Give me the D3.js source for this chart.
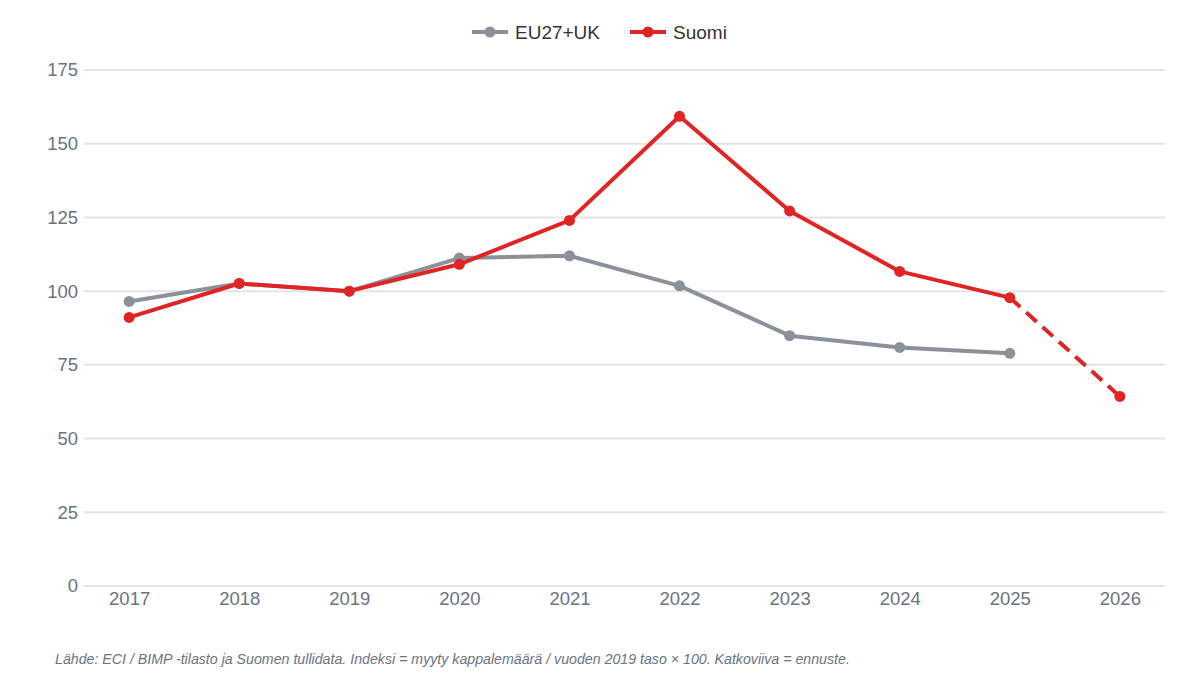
<!DOCTYPE html>
<html>
<head>
<meta charset="utf-8">
<script src="https://cdn.jsdelivr.net/npm/d3@7"></script>
<style>
  body { margin: 0; background: #fff; }
  svg { font-family: "Liberation Sans", Arial, sans-serif; }
  .tick text { fill: #6b7280; font-size: 18.5px; }
</style>
</head>
<body>
<svg id="chart" width="1200" height="682"></svg>
<script>
// data
const years = ["2017", "2018", "2019", "2020", "2021", "2022", "2023", "2024", "2025", "2026"];
const euValues = [96.5, 102.6, 100, 111.2, 112, 101.8, 84.9, 80.9, 78.9, null];
const suomiValues = [91.1, 102.6, 100, 109.1, 124, 159.3, 127.2, 106.7, 97.8, 64.3];
const forecastFrom = "2025";
const yTicks = [0, 25, 50, 75, 100, 125, 150, 175];
const source = "Lähde: ECI / BIMP -tilasto ja Suomen tullidata. Indeksi = myyty kappalemäärä / vuoden 2019 taso × 100. Katkoviiva = ennuste.";

const grey = "#8a9199";
const red = "#e02424";

let svg = d3.select("#chart");
let plotLeft = 84, plotRight = 1165, plotTop = 70, plotBottom = 586;

let x = d3.scalePoint().domain(years).range([plotLeft, plotRight]).padding(0.41);
let y = d3.scaleLinear().domain([0, 175]).range([plotBottom, plotTop]);

// grid lines
svg.append("g")
  .selectAll("line")
  .data(yTicks)
  .join("line")
  .attr("x1", plotLeft)
  .attr("x2", plotRight)
  .attr("y1", d => y(d))
  .attr("y2", d => y(d))
  .attr("stroke", "#e3e4e8")
  .attr("stroke-width", 2);

// axes
let yAxis = svg.append("g")
  .attr("transform", `translate(${plotLeft},0)`)
  .call(d3.axisLeft(y).tickValues(yTicks).tickSize(0).tickPadding(6));
yAxis.select(".domain").remove();

let xAxis = svg.append("g")
  .attr("transform", `translate(0,${plotBottom})`)
  .call(d3.axisBottom(x).tickSize(0).tickPadding(6));
xAxis.select(".domain").remove();

function series(values) {
  return years.map((yr, i) => ({ year: yr, v: values[i] })).filter(d => d.v != null);
}

let line = d3.line().x(d => x(d.year)).y(d => y(d.v));

let eu = series(euValues);
let fi = series(suomiValues);
let cut = years.indexOf(forecastFrom);
let fiActual = fi.filter(d => years.indexOf(d.year) <= cut);
let fiForecast = fi.filter(d => years.indexOf(d.year) >= cut);

function drawLine(data, color, dashed) {
  svg.append("path")
    .datum(data)
    .attr("d", line)
    .attr("fill", "none")
    .attr("stroke", color)
    .attr("stroke-width", 4)
    .attr("stroke-linejoin", "round")
    .attr("stroke-dasharray", dashed ? "14 8" : null);
}

function drawPoints(data, color) {
  svg.append("g")
    .selectAll("circle")
    .data(data)
    .join("circle")
    .attr("cx", d => x(d.year))
    .attr("cy", d => y(d.v))
    .attr("r", 5.5)
    .attr("fill", color);
}

drawLine(eu, grey, false);
drawLine(fiActual, red, false);
drawLine(fiForecast, red, true);
drawPoints(eu, grey);
drawPoints(fi, red);

// legend
let legend = [
  { label: "EU27+UK", color: grey, x: 472 },
  { label: "Suomi", color: red, x: 630 }
];
let lg = svg.append("g").selectAll("g").data(legend).join("g")
  .attr("transform", d => `translate(${d.x},32)`);
lg.append("line").attr("x1", 0).attr("x2", 36)
  .attr("stroke", d => d.color).attr("stroke-width", 4);
lg.append("circle").attr("cx", 18).attr("r", 5.5).attr("fill", d => d.color);
lg.append("text").attr("x", 43).attr("dy", "0.35em")
  .attr("font-size", 19).attr("fill", "#333")
  .text(d => d.label);

// footer
svg.append("text")
  .attr("x", 55)
  .attr("y", 664)
  .attr("font-size", 14.2)
  .attr("font-style", "italic")
  .attr("fill", "#6b7280")
  .text(source);
</script>
</body>
</html>
